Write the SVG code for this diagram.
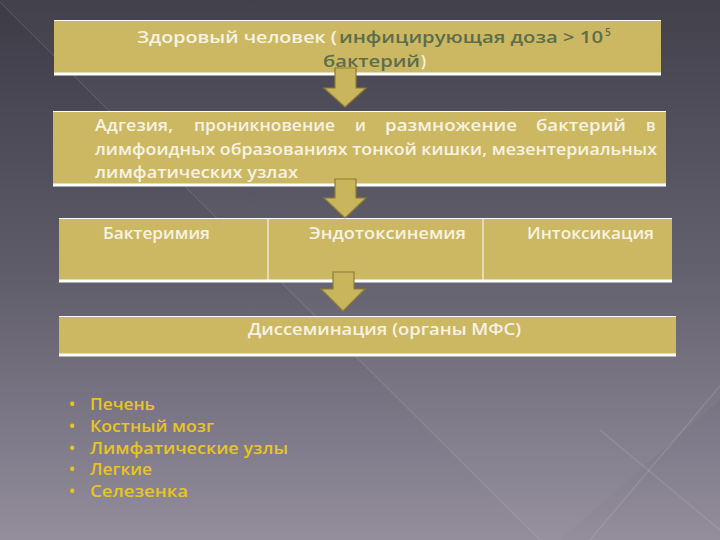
<svg xmlns="http://www.w3.org/2000/svg" width="720" height="540" viewBox="0 0 720 540">
<defs>
<linearGradient id="bg" x1="0" y1="0" x2="0" y2="1">
<stop offset="0" stop-color="#3c3b46"/>
<stop offset="0.5" stop-color="#5f5c6a"/>
<stop offset="1" stop-color="#938d9c"/>
</linearGradient>
<style>
.box{fill:#ccb862;}
.edge{stroke:#ffffff;fill:none;}
.t{font-family:"Open Sans","DejaVu Sans",sans-serif;font-size:16px;font-weight:600;fill:#f7f3e3;}
.g{fill:#5b6e4c;}
.sup{font-size:10px;}
.b{font-family:"Open Sans","DejaVu Sans",sans-serif;font-size:16px;font-weight:600;fill:#e9c520;}
.arrow{fill:#c9b55c;stroke:#8c7c36;stroke-width:1.2;}
.bg-line{stroke:#ffffff;stroke-opacity:0.12;stroke-width:1.2;}
</style>
</defs>
<rect width="720" height="540" fill="url(#bg)"/>
<polygon points="0,0 720,0 720,400 560,540 540,540" fill="#ffffff" fill-opacity="0.03"/>
<line class="bg-line" x1="0" y1="2" x2="540" y2="540"/>
<line class="bg-line" x1="720" y1="386" x2="590" y2="540"/>
<line class="bg-line" x1="600" y1="430" x2="720" y2="530"/>

<g id="node-healthy">
<rect class="box" x="54" y="20" width="607" height="55"/>
<line class="edge" x1="54" y1="20.5" x2="661" y2="20.5" stroke-width="1"/>
<line class="edge" x1="54" y1="74" x2="661" y2="74" stroke-width="3"/>
<text class="t" x="137" y="43" textLength="200" lengthAdjust="spacingAndGlyphs">Здоровый человек (</text>
<text class="t g" x="339" y="43" textLength="264" lengthAdjust="spacingAndGlyphs">инфицирующая доза &gt; 10</text>
<text class="t g sup" x="605" y="36">5</text>
</g>

<g id="node-adhesion">
<rect class="box" x="53" y="111" width="613" height="75"/>
<line class="edge" x1="53" y1="111.5" x2="666" y2="111.5" stroke-width="1"/>
<line class="edge" x1="53" y1="185" x2="666" y2="185" stroke-width="3"/>
<text class="t" x="95" y="131" textLength="78" lengthAdjust="spacingAndGlyphs">Адгезия,</text>
<text class="t" x="194" y="131" textLength="141" lengthAdjust="spacingAndGlyphs">проникновение</text>
<text class="t" x="355" y="131">и</text>
<text class="t" x="385" y="131" textLength="132" lengthAdjust="spacingAndGlyphs">размножение</text>
<text class="t" x="536" y="131" textLength="90" lengthAdjust="spacingAndGlyphs">бактерий</text>
<text class="t" x="646" y="131">в</text>
<text class="t" x="95" y="155" textLength="562" lengthAdjust="spacingAndGlyphs">лимфоидных образованиях тонкой кишки, мезентериальных</text>
<text class="t" x="95" y="178" textLength="203" lengthAdjust="spacingAndGlyphs">лимфатических узлах</text>
</g>

<g id="node-row">
<rect class="box" x="59" y="218" width="613" height="64"/>
<line class="edge" x1="59" y1="218.5" x2="672" y2="218.5" stroke-width="1"/>
<line class="edge" x1="59" y1="281" x2="672" y2="281" stroke-width="3"/>
<line class="edge" x1="268" y1="218" x2="268" y2="281" stroke-width="1"/>
<line class="edge" x1="483" y1="218" x2="483" y2="281" stroke-width="1"/>
<text class="t" x="103" y="239" textLength="107" lengthAdjust="spacingAndGlyphs">Бактеримия</text>
<text class="t" x="309" y="239" textLength="157" lengthAdjust="spacingAndGlyphs">Эндотоксинемия</text>
<text class="t" x="527" y="239" textLength="127" lengthAdjust="spacingAndGlyphs">Интоксикация</text>
</g>

<g id="node-dissemination">
<rect class="box" x="59" y="316" width="617" height="40"/>
<line class="edge" x1="59" y1="316.5" x2="676" y2="316.5" stroke-width="1"/>
<line class="edge" x1="59" y1="355" x2="676" y2="355" stroke-width="3"/>
<text class="t" x="248" y="335" textLength="273" lengthAdjust="spacingAndGlyphs">Диссеминация (органы МФС)</text>
</g>

<g id="connectors">
<polygon class="arrow" points="335,68 356,68 356,88 366,88 345,107 324,88 335,88"/>
<polygon class="arrow" points="335,179 356,179 356,198 366,198 345,218 324,198 335,198"/>
<polygon class="arrow" points="333,272 354,272 354,289 365,289 343,311 321,289 333,289"/>
</g>

<g id="node-healthy-line2">
<text class="t g" x="323" y="67" textLength="97" lengthAdjust="spacingAndGlyphs">бактерий</text>
<text class="t" x="421" y="67">)</text>
</g>

<g id="node-organs">
<text class="b" x="69" y="410">•</text>
<text class="b" x="90" y="410" textLength="65" lengthAdjust="spacingAndGlyphs">Печень</text>
<text class="b" x="69" y="432">•</text>
<text class="b" x="90" y="432" textLength="124" lengthAdjust="spacingAndGlyphs">Костный мозг</text>
<text class="b" x="69" y="454">•</text>
<text class="b" x="90" y="454" textLength="198" lengthAdjust="spacingAndGlyphs">Лимфатические узлы</text>
<text class="b" x="69" y="475">•</text>
<text class="b" x="90" y="475" textLength="62" lengthAdjust="spacingAndGlyphs">Легкие</text>
<text class="b" x="69" y="497">•</text>
<text class="b" x="90" y="497" textLength="98" lengthAdjust="spacingAndGlyphs">Селезенка</text>
</g>
</svg>
